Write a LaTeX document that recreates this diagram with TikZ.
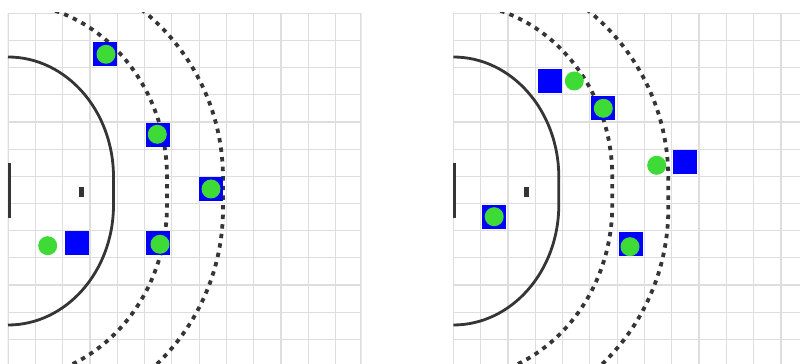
\documentclass[tikz,border=0pt]{standalone}
\usepackage{tikz}
\usetikzlibrary{positioning}
\definecolor{cLine}{HTML}{353535}
\definecolor{cGrid}{HTML}{DEDEDE}
\definecolor{cBlue}{HTML}{0000FF}
\definecolor{cGreen}{HTML}{3EDB36}
\tikzset{
  gridline/.style={cGrid,line width=0.6pt},
  sixm/.style={cLine,line width=1.4pt},
  ninem/.style={cLine,line width=1.9pt,dash pattern=on 2.2pt off 2.6pt},
  goalbar/.style={cLine,line width=1.6pt},
  sqr/.style={rectangle,fill=cBlue,minimum size=12pt,inner sep=0pt},
  dot/.style={circle,fill=cGreen,minimum size=9.5pt,inner sep=0pt},
}
\begin{document}
\begin{tikzpicture}[x=0.5pt,y=0.5pt]
  \useasboundingbox[fill=white] (0,0) rectangle (800,364);
  % the two half courts
  \foreach \ox in {0,445.3}{
    \begin{scope}[shift={(\ox,0)}]
      \clip (7.5,0) rectangle (361.5,351.2);
      \foreach \i in {0,...,12}
        \draw[gridline] ({8+27.3*\i},0) -- ({8+27.3*\i},350.7);
      \draw[gridline] (361,0) -- (361,350.7);
      \foreach \j in {0,...,12}
        \draw[gridline] (8,{350.7-27.17*\j}) -- (361,{350.7-27.17*\j});
      \draw[goalbar] (9.4,145.5) -- (9.4,201);
      \fill[cLine] (78.8,166.7) rectangle (83.5,177.3);
      \draw[sixm] (8,307) arc[start angle=90,end angle=0,x radius=105.5,y radius=120]
        -- (113.5,159) arc[start angle=0,end angle=-90,x radius=105.5,y radius=120];
      \draw[ninem] (8,361) arc[start angle=90,end angle=0,x radius=159,y radius=174]
        -- (167,159) arc[start angle=0,end angle=-90,x radius=159,y radius=174];
      \draw[ninem] (8,401) arc[start angle=90,end angle=0,radius=215]
        -- (223,155) arc[start angle=0,end angle=-90,radius=215];
    \end{scope}
  }
  % left court players
  \node[sqr] (lg1) at (104.7,310.2) {};
  \node[dot] (la1) at (106,309.7) {};
  \node[sqr] (lg2) at (158,229) {};
  \node[dot] (la2) at (157.3,229.7) {};
  \node[sqr] (lg3) at (211,175) {};
  \node[dot] (la3) at (lg3) {};
  \node[sqr] (lg4) at (158.3,120.7) {};
  \node[dot] (la4) at (160,119.7) {};
  \node[sqr] (lg5) at (77,120.7) {};
  \node[dot] (la5) at (47.7,118.3) {};
  % right court players
  \node[sqr] (rg1) at (549.5,282.8) {};
  \node[dot] (ra1) at (574.3,283) {};
  \node[sqr] (rg2) at (602.7,256.2) {};
  \node[dot] (ra2) at (603.3,255.7) {};
  \node[sqr] (rg3) at (684.7,201.8) {};
  \node[dot] (ra3) at (656.7,198.7) {};
  \node[sqr] (rg4) at (630.5,120.2) {};
  \node[dot] (ra4) at (630,117.3) {};
  \node[sqr] (rg5) at (494.2,147.3) {};
  \node[dot] (ra5) at (rg5) {};
\end{tikzpicture}
\end{document}
